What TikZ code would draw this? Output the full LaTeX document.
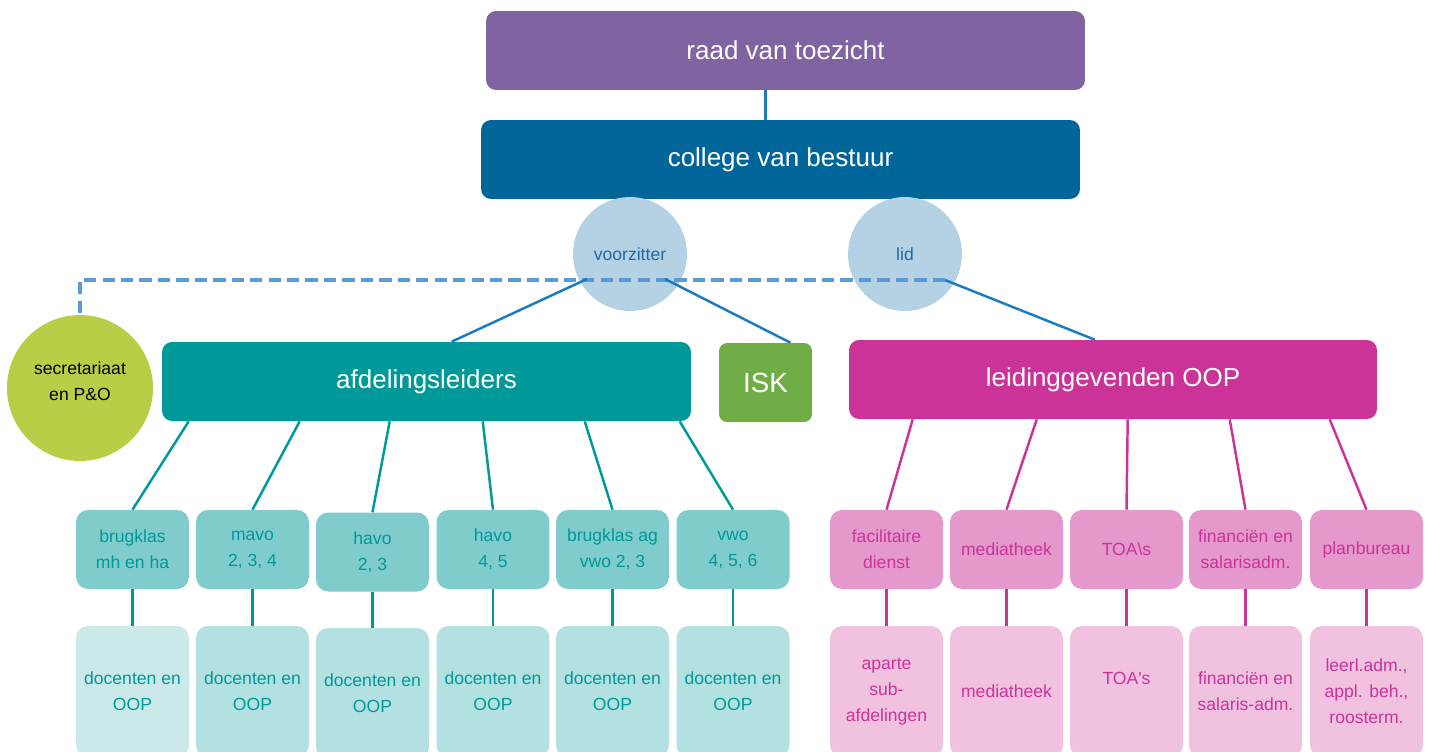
\documentclass[tikz,border=0pt]{standalone}
\usepackage{fontspec}
\setmainfont{Liberation Sans}
\usepackage{tikz}
\usetikzlibrary{positioning, calc}
\definecolor{rvtpurple}{HTML}{8064A2}
\definecolor{cvbblue}{HTML}{00669A}
\definecolor{circblue}{HTML}{B4D2E3}
\definecolor{circtext}{HTML}{1F6CA3}
\definecolor{linkblue}{HTML}{1A7BBF}
\definecolor{dashblue}{HTML}{5B9BD5}
\definecolor{limegreen}{HTML}{B9CD47}
\definecolor{afdteal}{HTML}{009999}
\definecolor{iskgreen}{HTML}{70AD47}
\definecolor{oopmagenta}{HTML}{CC3399}
\definecolor{tealmid}{HTML}{80CCCC}
\definecolor{teallight}{HTML}{B3E0E0}
\definecolor{tealpale}{HTML}{CCE9E9}
\definecolor{pinkmid}{HTML}{E598CB}
\definecolor{pinklight}{HTML}{F0C2E0}

\begin{document}
\begin{tikzpicture}[
    x=0.02cm, y=-0.02cm,
    headbox/.style={rectangle, rounded corners=0.2cm, minimum width=11.98cm, minimum height=1.58cm, text=white, font=\fontsize{14.8}{18}\selectfont},
    circ/.style={circle, fill=circblue, minimum size=2.28cm, text=circtext, font=\fontsize{10}{12}\selectfont},
    unitbox/.style={rectangle, rounded corners=0.24cm, minimum width=2.26cm, minimum height=1.58cm, align=center, font=\fontsize{10}{14.7}\selectfont},
    tealbox/.style={unitbox, fill=tealmid, text=afdteal},
    tealsub/.style={unitbox, fill=teallight, text=afdteal, minimum height=2.62cm},
    pinkbox/.style={unitbox, fill=pinkmid, text=oopmagenta},
    pinksub/.style={unitbox, fill=pinklight, text=oopmagenta, minimum height=2.62cm},
    conn/.style={draw=linkblue, line width=1.4pt},
    tline/.style={draw=afdteal, line width=1.4pt},
    pline/.style={draw=oopmagenta, line width=1.4pt},
    dashconn/.style={draw=dashblue, line width=2.2pt, dash pattern=on 7pt off 3.5pt}
]
\clip (0,0) rectangle (1429,751);

% Board
\node[headbox, fill=rvtpurple] (rvt) at (785.5,50.5) {raad van toezicht};
\node[headbox, fill=cvbblue] (cvb) at (780.5,159.5) {college van bestuur};
\node[circ] (voorz) at (630,254) {voorzitter};
\node[circ] (lid) at (905,254) {lid};

\coordinate (rvtlink) at ($(rvt.south)+(-20,0)$);
\draw[conn] (rvtlink) -- (rvtlink |- cvb.north);

% Management
\node[circle, fill=limegreen, minimum size=2.92cm, align=center, font=\fontsize{10}{14.7}\selectfont] (secr) at (80,388) {secretariaat\\en P\&O\\[-6.8pt]\mbox{}};
\node[headbox, fill=afdteal, minimum width=10.58cm] (afd) at (426.5,381.5) {afdelingsleiders};
\node[headbox, fill=iskgreen, minimum width=1.86cm, rounded corners=0.16cm, font=\fontsize{15.8}{18}\selectfont] (isk) at (765.5,382.5) {ISK};
\node[headbox, fill=oopmagenta, minimum width=10.56cm] (oop) at (1113,379.5) {leidinggevenden OOP};

\draw[dashconn] ($(lid.center)+(40,26)$) -| (secr.north);
\draw[conn] ($(voorz.center)+(-43,25)$) -- ($(afd.north west)+(290,0)$);
\draw[conn] ($(voorz.center)+(35,25)$) -- ($(isk.north east)+(-22,0)$);
\draw[conn] ($(lid.center)+(40,26)$) -- ($(oop.north west)+(246,0)$);

% Departments
\node[tealbox] (brug1) at (132.5,549.5) {brugklas\\mh en ha};
\node[tealbox] (mavo) at (252.5,549.5) {mavo\\2, 3, 4};
\node[tealbox] (havo1) at (372.5,552) {havo\\2, 3};
\node[tealbox] (havo2) at (493,549.5) {havo\\4, 5};
\node[tealbox] (brug2) at (612.5,549.5) {brugklas ag\\vwo 2, 3};
\node[tealbox] (vwo) at (733,549.5) {vwo\\4, 5, 6};

\node[tealsub, fill=tealpale] (doc1) at (132.5,691.5) {docenten en\\OOP};
\node[tealsub] (doc2) at (252.5,691.5) {docenten en\\OOP};
\node[tealsub] (doc3) at (372.5,693.5) {docenten en\\OOP};
\node[tealsub] (doc4) at (493,691.5) {docenten en\\OOP};
\node[tealsub] (doc5) at (612.5,691.5) {docenten en\\OOP};
\node[tealsub] (doc6) at (733,691.5) {docenten en\\OOP};

\draw[tline] ($(afd.south west)+(27,0)$) -- (brug1.north);
\draw[tline] ($(afd.south west)+(138,0)$) -- (mavo.north);
\draw[tline] ($(afd.south west)+(228,0)$) -- (havo1.north);
\draw[tline] ($(afd.south west)+(321,0)$) -- (havo2.north);
\draw[tline] ($(afd.south west)+(423,0)$) -- (brug2.north);
\draw[tline] ($(afd.south west)+(518,0)$) -- (vwo.north);

\draw[tline] (brug1.south) -- (doc1.north);
\draw[tline] (mavo.south) -- (doc2.north);
\draw[tline] (havo1.south) -- (doc3.north);
\draw[tline] (havo2.south) -- (doc4.north);
\draw[tline] (brug2.south) -- (doc5.north);
\draw[tline] (vwo.south) -- (doc6.north);

% Support staff
\node[pinkbox] (fac) at (886.5,549.5) {facilitaire\\dienst};
\node[pinkbox] (med) at (1006.5,549.5) {mediatheek};
\node[pinkbox] (toa) at (1126.5,549.5) {TOA\textbackslash s};
\node[pinkbox] (fin) at (1245.5,549.5) {financiën en\\salarisadm.};
\node[pinkbox] (plan) at (1366.5,549.5) {planbureau};

\node[pinksub] (fac2) at (886.5,691.5) {aparte\\sub-\\afdelingen};
\node[pinksub] (med2) at (1006.5,691.5) {mediatheek};
\node[pinksub] (toa2) at (1126.5,691.5) {TOA\textquotesingle s\\\mbox{}};
\node[pinksub] (fin2) at (1245.5,691.5) {financiën en\\salaris-adm.};
\node[pinksub] (plan2) at (1366.5,691.5) {leerl.adm.,\\appl. beh.,\\roosterm.};

\draw[pline] ($(oop.south west)+(64,0)$) -- (fac.north);
\draw[pline] ($(oop.south west)+(188,0)$) -- (med.north);
\draw[pline] ($(oop.south west)+(279,0)$) -- (toa.north);
\draw[pline] ($(oop.south west)+(381,0)$) -- (fin.north);
\draw[pline] ($(oop.south west)+(481,0)$) -- (plan.north);

\draw[pline] (fac.south) -- (fac2.north);
\draw[pline] (med.south) -- (med2.north);
\draw[pline] (toa.south) -- (toa2.north);
\draw[pline] (fin.south) -- (fin2.north);
\draw[pline] (plan.south) -- (plan2.north);

\end{tikzpicture}
\end{document}
